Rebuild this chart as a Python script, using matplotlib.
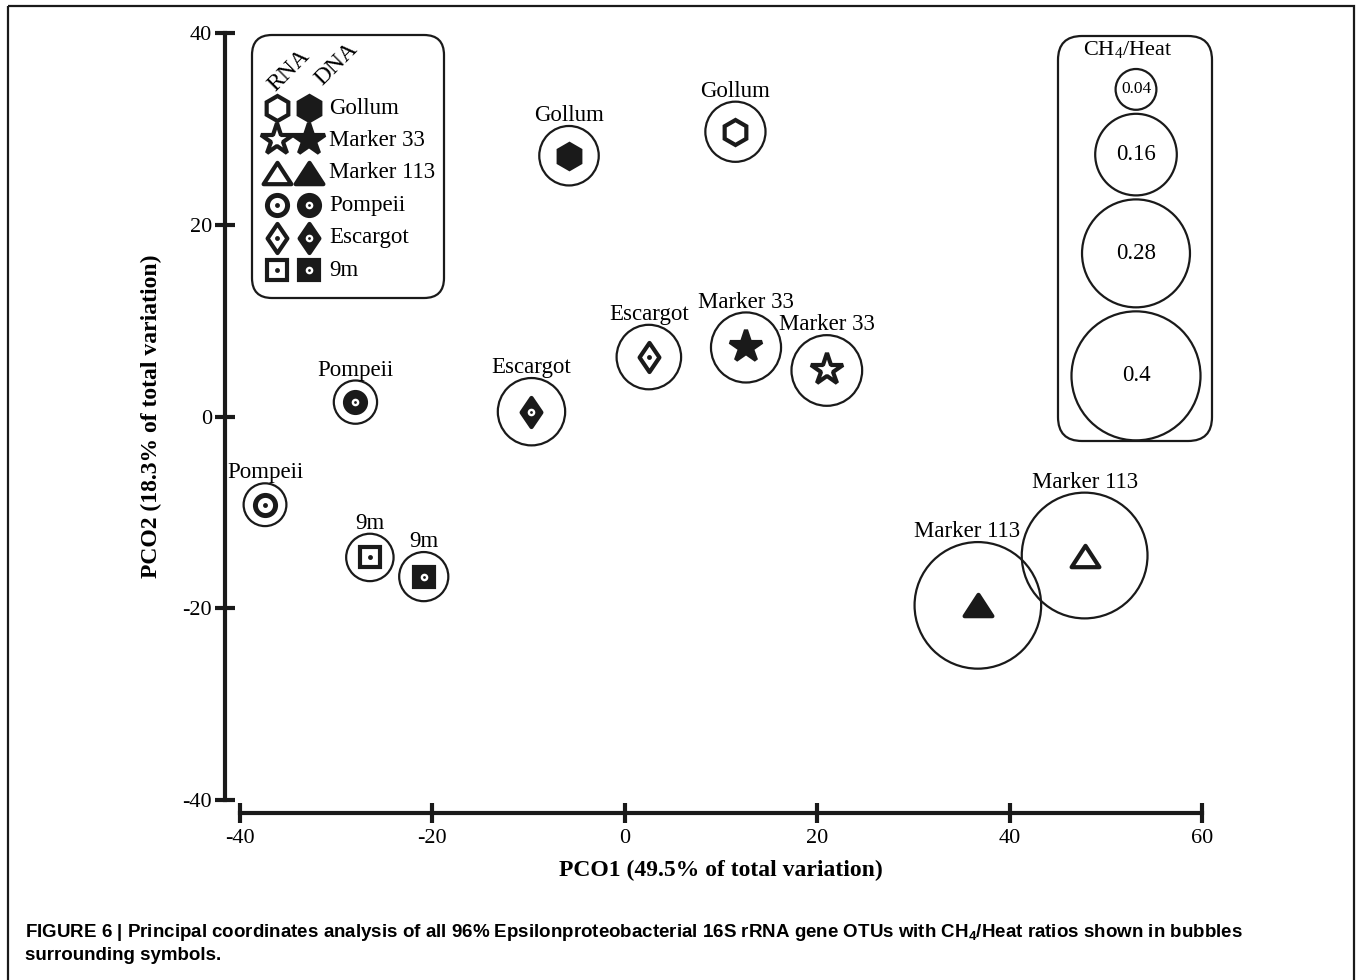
import numpy as np
import matplotlib
matplotlib.use('Agg')
import matplotlib.pyplot as plt
from matplotlib.patches import FancyBboxPatch, Rectangle
from matplotlib.path import Path

plt.rcParams['font.family'] = 'Liberation Serif'
plt.rcParams['axes.unicode_minus'] = False

#%% data
sites = ['Gollum', 'Gollum', 'Escargot', 'Marker 33', 'Marker 33', 'Escargot',
         'Pompeii', 'Pompeii', '9m', '9m', 'Marker 113', 'Marker 113']
nucleic = ['DNA', 'RNA', 'RNA', 'DNA', 'RNA', 'DNA',
           'DNA', 'RNA', 'RNA', 'DNA', 'DNA', 'RNA']
pco1 = [-5.8, 11.5, 2.5, 12.6, 21.0, -9.7, -28.0, -37.4, -26.5, -20.9, 36.7, 47.8]
pco2 = [27.2, 29.7, 6.2, 7.2, 4.8, 0.5, 1.5, -9.2, -14.7, -16.7, -19.7, -14.5]
ch4_heat = [0.085, 0.087, 0.10, 0.118, 0.12, 0.109, 0.045, 0.044, 0.054, 0.058, 0.385, 0.38]

legend_sites = ['Gollum', 'Marker 33', 'Marker 113', 'Pompeii', 'Escargot', '9m']
bubble_key = [0.04, 0.16, 0.28, 0.4]

xticks = [-40, -20, 0, 20, 40, 60]
yticks = [-40, -20, 0, 20, 40]

#%% styles
INK = '#1a1a1a'
R_PX = 102.0                      # bubble radius in px for ratio 1 (area ~ ratio)
BUBBLE = (2 * R_PX * 0.72) ** 2   # scatter size factor, points^2


def closed(verts):
    return Path(verts + [verts[0]], closed=True)


tri = closed([(0, 1), (1.3, -1), (-1.3, -1)])
dia = closed([(0, 1), (0.68, 0), (0, -1), (-0.68, 0)])
# marker, size, edge width, centre dot
shapes = {'Gollum': ('h', 18, 3, False),
          'Marker 33': ('*', 24, 3, False),
          'Marker 113': (tri, 20, 3, False),
          'Pompeii': ('o', 14.5, 3.6, True),
          'Escargot': (dia, 21, 3, True),
          '9m': ('s', 14, 3, True)}


def draw_symbol(ax, x, y, site, kind, z=5):
    m, ms, mew, dot = shapes[site]
    face = 'white' if kind == 'RNA' else INK
    ax.plot(x, y, ls='none', marker=m, ms=ms, mfc=face, mec=INK, mew=mew,
            zorder=z, clip_on=False)
    if dot:
        if kind == 'RNA':
            ax.plot(x, y, ls='none', marker='o', ms=3.5, mfc=INK, mec=INK, mew=0, zorder=z + 1)
        else:
            ax.plot(x, y, ls='none', marker='o', ms=5.5, mfc='white', mec='white', mew=0, zorder=z + 1)
            ax.plot(x, y, ls='none', marker='o', ms=2, mfc=INK, mec=INK, mew=0, zorder=z + 2)


fig = plt.figure(figsize=(13.59, 9.8), dpi=100)
ax = fig.add_axes([240 / 1359, 180 / 980, 962 / 1359, 767 / 980])
ax.patch.set_visible(False)

#%% bubbles + symbols + labels
ax.scatter(pco1, pco2, s=np.array(ch4_heat) * BUBBLE, facecolors='none',
           edgecolors=INK, linewidths=1.6, zorder=3, clip_on=False)
for x, y, site, kind, v in zip(pco1, pco2, sites, nucleic, ch4_heat):
    draw_symbol(ax, x, y, site, kind)
    r_pt = R_PX * np.sqrt(v) * 0.72
    dx = -8 if (site == 'Marker 113' and kind == 'DNA') else 0
    ax.annotate(site, (x, y), xytext=(dx, r_pt + 7.5), textcoords='offset points',
                ha='center', va='center', fontsize=16.5, zorder=6)

ax.set_xlim(-40, 60)
ax.set_ylim(-40, 40)
ax.set_xticks(xticks)
ax.set_yticks(yticks)
for s in ['top', 'right']:
    ax.spines[s].set_visible(False)
ax.spines['left'].set_position(('outward', 10.8))
ax.spines['bottom'].set_position(('outward', 9.4))
for s in ['left', 'bottom']:
    ax.spines[s].set_linewidth(3)
    ax.spines[s].set_color(INK)
ax.tick_params(direction='inout', length=14.4, width=3, color=INK, labelsize=16, pad=2)
ax.tick_params(axis='x', pad=4)
ax.set_xlabel('PCO1 (49.5% of total variation)', fontsize=17, fontweight='bold', labelpad=9)
ax.set_ylabel('PCO2 (18.3% of total variation)', fontsize=17, fontweight='bold', labelpad=15)

#%% overlay in pixel coordinates: legends, frame, caption
ov = fig.add_axes([0, 0, 1, 1], zorder=10)
ov.patch.set_visible(False)
ov.set_xlim(0, 1359)
ov.set_ylim(980, 0)
ov.axis('off')

ov.add_patch(Rectangle((8, 6), 1346, 1000, fill=False, lw=1.6, ec=INK))

# symbol legend
ov.add_patch(FancyBboxPatch((252, 35), 192, 263, boxstyle='round,pad=0,rounding_size=20',
                            fill=False, lw=1.6, ec=INK))
ov.text(289, 71, 'RNA', rotation=45, ha='center', va='center', fontsize=17)
ov.text(337, 64, 'DNA', rotation=45, ha='center', va='center', fontsize=17)
rows = np.linspace(108, 270, len(legend_sites))
for yy, site in zip(rows, legend_sites):
    draw_symbol(ov, 277, yy, site, 'RNA')
    draw_symbol(ov, 309, yy, site, 'DNA')
    ov.text(329, yy, site, ha='left', va='center', fontsize=16.5)

# bubble legend
ov.add_patch(FancyBboxPatch((1058, 36), 154, 405, boxstyle='round,pad=0,rounding_size=24',
                            fill=False, lw=1.6, ec=INK))
ov.text(1128, 50, r'CH$\mathregular{_4}$/Heat', ha='center', va='center', fontsize=16)
top = 69
for v in bubble_key:
    r = R_PX * np.sqrt(v)
    cy = top + r
    ov.scatter([1136], [cy], s=[v * BUBBLE], facecolors='none', edgecolors=INK, linewidths=1.6)
    ov.text(1136, cy, str(v), ha='center', va='center', fontsize=12.5 if v < 0.1 else 16.5)
    top = cy + r + 4

# caption
cap_kw = dict(family='Liberation Sans', fontweight='bold', fontsize=13.5, ha='left', va='center')
ov.text(25, 932, 'FIGURE 6 | Principal coordinates analysis of all 96% Epsilonproteobacterial 16S '
        r'rRNA gene OTUs with CH$\mathregular{_4}$/Heat ratios shown in bubbles', **cap_kw)
ov.text(25, 955, 'surrounding symbols.', **cap_kw)

plt.savefig('out.png', dpi=100)
